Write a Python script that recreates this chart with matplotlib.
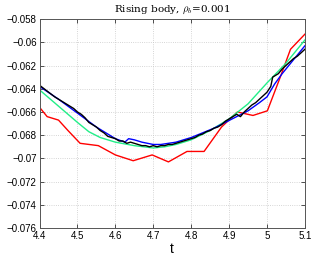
import matplotlib
matplotlib.use("Agg")
import matplotlib.pyplot as plt

t_black = [4.40, 4.42, 4.44, 4.46, 4.48, 4.49, 4.50, 4.51, 4.52, 4.53, 4.54, 4.55, 4.56, 4.57,
           4.58, 4.59, 4.60, 4.61, 4.62, 4.63, 4.64, 4.65, 4.66, 4.67, 4.68, 4.69, 4.70, 4.71,
           4.72, 4.73, 4.74, 4.75, 4.76, 4.77, 4.78, 4.79, 4.80, 4.81, 4.82, 4.83, 4.84, 4.85,
           4.86, 4.87, 4.88, 4.89, 4.90, 4.91, 4.92, 4.93, 4.94, 4.95, 4.96, 4.97, 4.98, 4.99,
           5.00, 5.01, 5.015, 5.02, 5.03, 5.04, 5.05, 5.06, 5.07, 5.08, 5.09, 5.10]
v_black = [-0.0637, -0.0642, -0.0647, -0.0651, -0.0655, -0.0657, -0.0660, -0.0662, -0.0665,
           -0.0669, -0.0671, -0.0673, -0.0676, -0.0678, -0.0681, -0.0682, -0.0683, -0.0685,
           -0.0685, -0.0687, -0.0686, -0.0687, -0.0688, -0.0689, -0.0689, -0.0690, -0.0689,
           -0.0690, -0.0689, -0.0689, -0.0688, -0.0688, -0.0687, -0.0686, -0.0685, -0.0684,
           -0.0683, -0.0682, -0.0680, -0.0679, -0.0677, -0.0676, -0.0674, -0.0673, -0.0671,
           -0.0668, -0.0666, -0.0664, -0.0662, -0.0664, -0.0660, -0.0657, -0.0654, -0.0652,
           -0.0649, -0.0646, -0.0643, -0.0638, -0.0630, -0.0629, -0.0627, -0.0623, -0.0620,
           -0.0617, -0.0614, -0.0612, -0.0609, -0.0606]

t_blue = [4.40, 4.45, 4.50, 4.55, 4.60, 4.625, 4.635, 4.65, 4.67, 4.70, 4.72, 4.74, 4.76,
          4.78, 4.80, 4.83, 4.86, 4.89, 4.92, 4.95, 4.98, 5.00, 5.02, 5.04, 5.06, 5.08, 5.10]
v_blue = [-0.0638, -0.0649, -0.0661, -0.0673, -0.0683, -0.0686, -0.0683, -0.0684, -0.0686,
          -0.0688, -0.0688, -0.0687, -0.0686, -0.0684, -0.0682, -0.0678, -0.0674, -0.0669,
          -0.0664, -0.0659, -0.0652, -0.0647, -0.0636, -0.0627, -0.0619, -0.0611, -0.0603]

t_green = [4.40, 4.45, 4.50, 4.53, 4.56, 4.60, 4.65, 4.70, 4.73, 4.76, 4.80, 4.85, 4.90,
           4.95, 5.00, 5.05, 5.10]
v_green = [-0.0641, -0.0655, -0.0669, -0.0677, -0.0682, -0.0686, -0.0689, -0.0691, -0.0690,
           -0.0688, -0.0684, -0.0676, -0.0666, -0.0653, -0.0635, -0.0618, -0.0598]

t_red = [4.40, 4.42, 4.45, 4.475, 4.507, 4.555, 4.60, 4.647, 4.697, 4.74, 4.789, 4.834,
         4.88, 4.922, 4.963, 5.001, 5.035, 5.062, 5.10]
v_red = [-0.0656, -0.0664, -0.0667, -0.0676, -0.0687, -0.0689, -0.0697, -0.0702, -0.0697,
         -0.0703, -0.0694, -0.0694, -0.0673, -0.0660, -0.0663, -0.0659, -0.0630, -0.0606,
         -0.0593]

x_ticks = [4.4, 4.5, 4.6, 4.7, 4.8, 4.9, 5.0, 5.1]
x_labels = ["4.4", "4.5", "4.6", "4.7", "4.8", "4.9", "5", "5.1"]
y_ticks = [-0.076, -0.074, -0.072, -0.070, -0.068, -0.066, -0.064, -0.062, -0.060, -0.058]
y_labels = ["\u22120.076", "\u22120.074", "\u22120.072", "\u22120.07", "\u22120.068",
            "\u22120.066", "\u22120.064", "\u22120.062", "\u22120.06", "\u22120.058"]

plt.rcParams['mathtext.fontset'] = 'cm'
fig = plt.figure(figsize=(3.14, 2.58), dpi=100)
ax = fig.add_axes([0.126, 0.116, 0.845, 0.810])

ax.plot(t_red, v_red, color='#ff0000', lw=1.0)
ax.plot(t_green, v_green, color='#22ee88', lw=1.0)
ax.plot(t_blue, v_blue, color='#0000ff', lw=1.0)
ax.plot(t_black, v_black, color='#000000', lw=1.0)

ax.set_xlim(4.4, 5.1)
ax.set_ylim(-0.076, -0.058)
ax.set_xticks(x_ticks)
ax.set_xticklabels(x_labels, fontsize=7, family='Liberation Sans')
ax.set_yticks(y_ticks)
ax.set_yticklabels(y_labels, fontsize=7, family='Liberation Sans')
ax.tick_params(direction='in', length=3, width=0.6, top=True, right=True, pad=2, colors='#333333', labelcolor='black')
ax.grid(True, linestyle=':', color='#c8c8c8', lw=0.6)
for s in ax.spines.values():
    s.set_color('#555555')
    s.set_linewidth(0.7)
ax.set_xlabel('t', fontsize=10, family='Liberation Sans', labelpad=1)
ax.set_title(r'Rising body, $\rho_b$=0.001', fontsize=7.5, family='DejaVu Serif', pad=5)

fig.savefig('out.png', dpi=100)
